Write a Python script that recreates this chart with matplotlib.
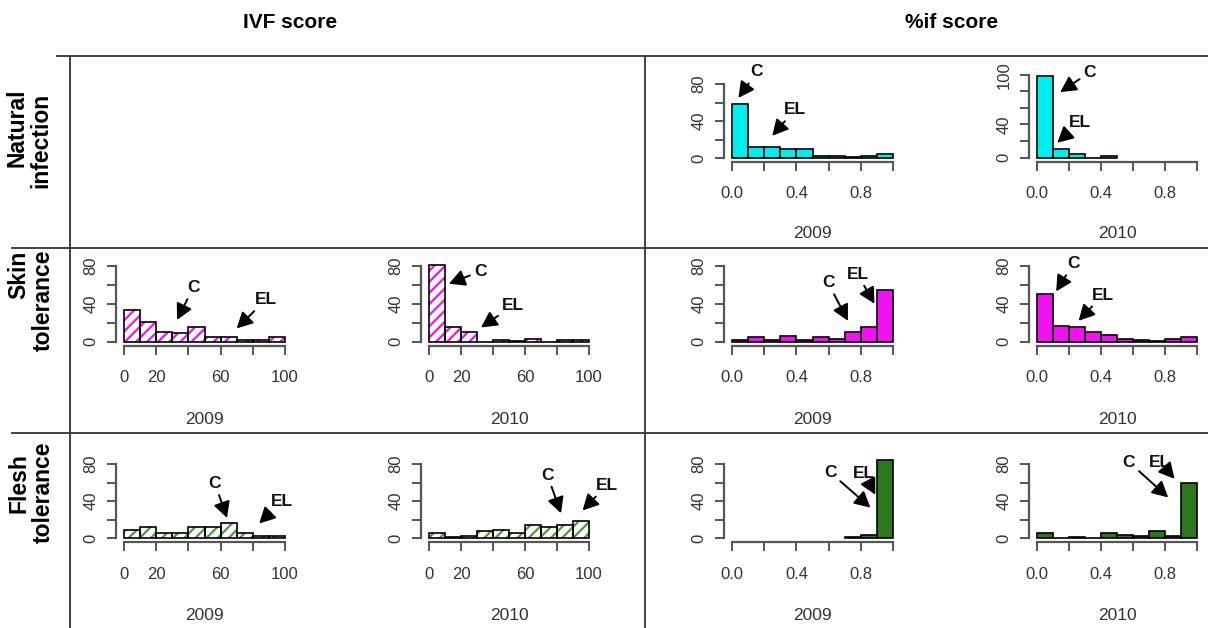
import numpy as np
import matplotlib.pyplot as plt
from matplotlib.lines import Line2D

plt.rcParams['font.family'] = ['Liberation Sans', 'DejaVu Sans']
plt.rcParams['hatch.linewidth'] = 1.6

# bin edges
ivf_edges = [0, 10, 20, 30, 40, 50, 60, 70, 80, 90, 100]
pif_edges = [0.0, 0.1, 0.2, 0.3, 0.4, 0.5, 0.6, 0.7, 0.8, 0.9, 1.0]
pif_edges_short = [0.0, 0.1, 0.2, 0.3, 0.4, 0.5]
pif_edges_tail = [0.7, 0.8, 0.9, 1.0]

# counts per bin
nat_pif_2009 = [58, 12, 12, 10, 10, 2, 2, 1, 2, 4]
nat_pif_2010 = [99, 11, 4, 0, 2]
skin_ivf_2009 = [33, 21, 10, 9, 15, 5, 5, 2, 2, 5]
skin_ivf_2010 = [81, 15, 10, 0, 2, 1, 3, 0, 2, 2]
skin_pif_2009 = [2, 5, 2, 6, 2, 5, 3, 10, 16, 54]
skin_pif_2010 = [50, 17, 15, 10, 7, 3, 2, 1, 3, 5]
flesh_ivf_2009 = [9, 12, 6, 6, 12, 12, 17, 6, 2, 3]
flesh_ivf_2010 = [6, 1, 2, 8, 9, 6, 14, 12, 14, 19]
flesh_pif_2009 = [1, 4, 84]
flesh_pif_2010 = [6, 0, 1, 0, 6, 4, 2, 8, 3, 60]

# arrow annotations: (text, label position, arrow tip)
ann_nat_2009 = [('C', (0.155, 93), (0.04, 65)), ('EL', (0.39, 52), (0.25, 24))]
ann_nat_2010 = [('C', (0.33, 103), (0.145, 79)), ('EL', (0.27, 43), (0.127, 18))]
ann_skin_ivf_2009 = [('C', (43, 57), (33, 23)), ('EL', (88, 44), (70, 14))]
ann_skin_ivf_2010 = [('C', (32, 74), (12.5, 61)), ('EL', (52.5, 38), (32.5, 15))]
ann_skin_pif_2009 = [('C', (0.597, 62), (0.72, 22)), ('EL', (0.78, 71), (0.885, 40))]
ann_skin_pif_2010 = [('C', (0.226, 82), (0.12, 53)), ('EL', (0.41, 49), (0.26, 22))]
ann_flesh_ivf_2009 = [('C', (56.5, 59), (64, 22)), ('EL', (98, 40), (84, 16))]
ann_flesh_ivf_2010 = [('C', (74, 68), (82.5, 27)), ('EL', (111, 57), (96, 30))]
ann_flesh_pif_2009 = [('C', (0.61, 71), (0.86, 33)), ('EL', (0.82, 70), (0.89, 47))]
ann_flesh_pif_2010 = [('C', (0.575, 82), (0.82, 44)), ('EL', (0.77, 82), (0.86, 64))]

W, H = 1208, 628
fig = plt.figure(figsize=(W / 100, H / 100), dpi=100)

AXC = '#555555'
CYAN = '#00eeee'
MAGENTA = '#f012f0'
GREEN = '#2f771f'
LGREEN = '#4f9a3c'


def make_axes(xpx, ypx, xr, yr):
    # xpx/ypx: pixel positions of xr/yr ends
    left, right = xpx[0] - 25, xpx[1] + 25
    top, bottom = ypx[1] - 40, ypx[0] + 15
    ax = fig.add_axes([left / W, 1 - bottom / H, (right - left) / W, (bottom - top) / H])
    sx = (xpx[1] - xpx[0]) / (xr[1] - xr[0])
    sy = (ypx[0] - ypx[1]) / (yr[1] - yr[0])
    ax.set_xlim(xr[0] - (xpx[0] - left) / sx, xr[1] + (right - xpx[1]) / sx)
    ax.set_ylim(yr[0] - (bottom - ypx[0]) / sy, yr[1] + (ypx[1] - top) / sy)
    ax.patch.set_visible(False)
    for s in ['top', 'right']:
        ax.spines[s].set_visible(False)
    ax.spines['left'].set_position(('data', xr[0] - 8 / sx))
    ax.spines['bottom'].set_position(('data', -4 / sy))
    ax.spines['left'].set_bounds(yr[0], yr[1])
    ax.spines['bottom'].set_bounds(xr[0], xr[1])
    for s in ['left', 'bottom']:
        ax.spines[s].set_color(AXC)
        ax.spines[s].set_linewidth(1.6)
    ax.tick_params(direction='out', length=6.5, width=1.4, color=AXC,
                   labelsize=12, labelcolor='#333333')
    ax.tick_params(axis='x', pad=11)
    ax.tick_params(axis='y', pad=6)
    return ax


def draw_hist(ax, edges, counts, face, hatch=None):
    edges = np.asarray(edges, dtype=float)
    w = np.diff(edges)
    if hatch:
        ax.bar(edges[:-1], counts, width=w, align='edge', facecolor='white',
               edgecolor=face, hatch=hatch, linewidth=0)
        ax.bar(edges[:-1], counts, width=w, align='edge', facecolor='none',
               edgecolor='black', linewidth=1.2)
    else:
        ax.bar(edges[:-1], counts, width=w, align='edge', facecolor=face,
               edgecolor='black', linewidth=1.2)


def annotate(ax, notes):
    for txt, lab, tip in notes:
        ax.annotate(txt, xy=tip, xytext=lab, ha='center', va='center',
                    fontsize=12.5, fontweight='bold', color='#111111',
                    annotation_clip=False,
                    arrowprops=dict(arrowstyle='-|>,head_length=0.8,head_width=0.42',
                                    color='black', lw=1.4, shrinkA=1, shrinkB=0,
                                    mutation_scale=12))


def ivf_ticks(ax):
    ax.set_xticks([0, 20, 40, 60, 80, 100])
    ax.set_xticklabels(['0', '20', '', '60', '', '100'])


def pif_ticks(ax):
    ax.set_xticks([0.0, 0.2, 0.4, 0.6, 0.8, 1.0])
    ax.set_xticklabels(['0.0', '', '0.4', '', '0.8', ''])


def y_ticks(ax, top, labels):
    ticks = list(range(0, top + 1, 20))
    ax.set_yticks(ticks)
    ax.set_yticklabels([str(t) if t in labels else '' for t in ticks],
                       rotation=90, va='center')


colA, colB = (124, 285), (429, 589)
colC, colD = (732, 893), (1037, 1197)

# row 1: natural infection
ax = make_axes(colC, (158, 84), (0, 1), (0, 80))
draw_hist(ax, pif_edges, nat_pif_2009, CYAN)
pif_ticks(ax); y_ticks(ax, 80, [0, 40, 80]); annotate(ax, ann_nat_2009)

ax = make_axes(colD, (157.7, 74.7), (0, 1), (0, 100))
draw_hist(ax, pif_edges_short, nat_pif_2010, CYAN)
pif_ticks(ax); y_ticks(ax, 100, [0, 40, 100]); annotate(ax, ann_nat_2010)

# row 2: skin tolerance
row2 = (341.7, 265.7)
ax = make_axes(colA, row2, (0, 100), (0, 80))
draw_hist(ax, ivf_edges, skin_ivf_2009, MAGENTA, hatch='///')
ivf_ticks(ax); y_ticks(ax, 80, [0, 40, 80]); annotate(ax, ann_skin_ivf_2009)

ax = make_axes(colB, row2, (0, 100), (0, 80))
draw_hist(ax, ivf_edges, skin_ivf_2010, MAGENTA, hatch='///')
ivf_ticks(ax); y_ticks(ax, 80, [0, 40, 80]); annotate(ax, ann_skin_ivf_2010)

ax = make_axes(colC, row2, (0, 1), (0, 80))
draw_hist(ax, pif_edges, skin_pif_2009, MAGENTA)
pif_ticks(ax); y_ticks(ax, 80, [0, 40, 80]); annotate(ax, ann_skin_pif_2009)

ax = make_axes(colD, row2, (0, 1), (0, 80))
draw_hist(ax, pif_edges, skin_pif_2010, MAGENTA)
pif_ticks(ax); y_ticks(ax, 80, [0, 40, 80]); annotate(ax, ann_skin_pif_2010)

# row 3: flesh tolerance
row3 = (538.3, 464)
ax = make_axes(colA, row3, (0, 100), (0, 80))
draw_hist(ax, ivf_edges, flesh_ivf_2009, LGREEN, hatch='///')
ivf_ticks(ax); y_ticks(ax, 80, [0, 40, 80]); annotate(ax, ann_flesh_ivf_2009)

ax = make_axes(colB, row3, (0, 100), (0, 80))
draw_hist(ax, ivf_edges, flesh_ivf_2010, LGREEN, hatch='///')
ivf_ticks(ax); y_ticks(ax, 80, [0, 40, 80]); annotate(ax, ann_flesh_ivf_2010)

ax = make_axes(colC, row3, (0, 1), (0, 80))
draw_hist(ax, pif_edges_tail, flesh_pif_2009, GREEN)
pif_ticks(ax); y_ticks(ax, 80, [0, 40, 80]); annotate(ax, ann_flesh_pif_2009)

ax = make_axes(colD, row3, (0, 1), (0, 80))
draw_hist(ax, pif_edges, flesh_pif_2010, GREEN)
pif_ticks(ax); y_ticks(ax, 80, [0, 40, 80]); annotate(ax, ann_flesh_pif_2010)

# year labels under each panel
for cx, cy, yr in [(812, 233, '2009'), (1117, 233, '2010'),
                   (204, 420, '2009'), (509, 420, '2010'),
                   (812, 420, '2009'), (1117, 420, '2010'),
                   (204, 615, '2009'), (509, 615, '2010'),
                   (812, 615, '2009'), (1117, 615, '2010')]:
    fig.text(cx / W, 1 - cy / H, yr, ha='center', va='center', fontsize=12.5,
             color='#333333')

# column headers
fig.text(290 / W, 1 - 23 / H, 'IVF score', ha='center', va='center',
         fontsize=15, fontweight='bold')
fig.text(952 / W, 1 - 22 / H, '%if score', ha='center', va='center',
         fontsize=15, fontweight='bold')

# row headers
for cx, cy, txt in [(17, 128, 'Natural'), (41, 140, 'infection'),
                    (19, 275, 'Skin'), (43, 300, 'tolerance'),
                    (19, 483, 'Flesh'), (43, 492, 'tolerance')]:
    fig.text(cx / W, 1 - cy / H, txt, ha='center', va='center', rotation=90,
             fontsize=16.5, fontweight='bold')

# table rules
def rule(x0, y0, x1, y1):
    fig.add_artist(Line2D([x0 / W, x1 / W], [1 - y0 / H, 1 - y1 / H],
                          color='#333333', lw=1.3))

rule(57, 56, W, 56)
rule(12, 248, W, 248)
rule(12, 433, W, 433)
rule(70, 56, 70, H)
rule(645, 56, 645, H)

fig.savefig('out.png', dpi=100)
